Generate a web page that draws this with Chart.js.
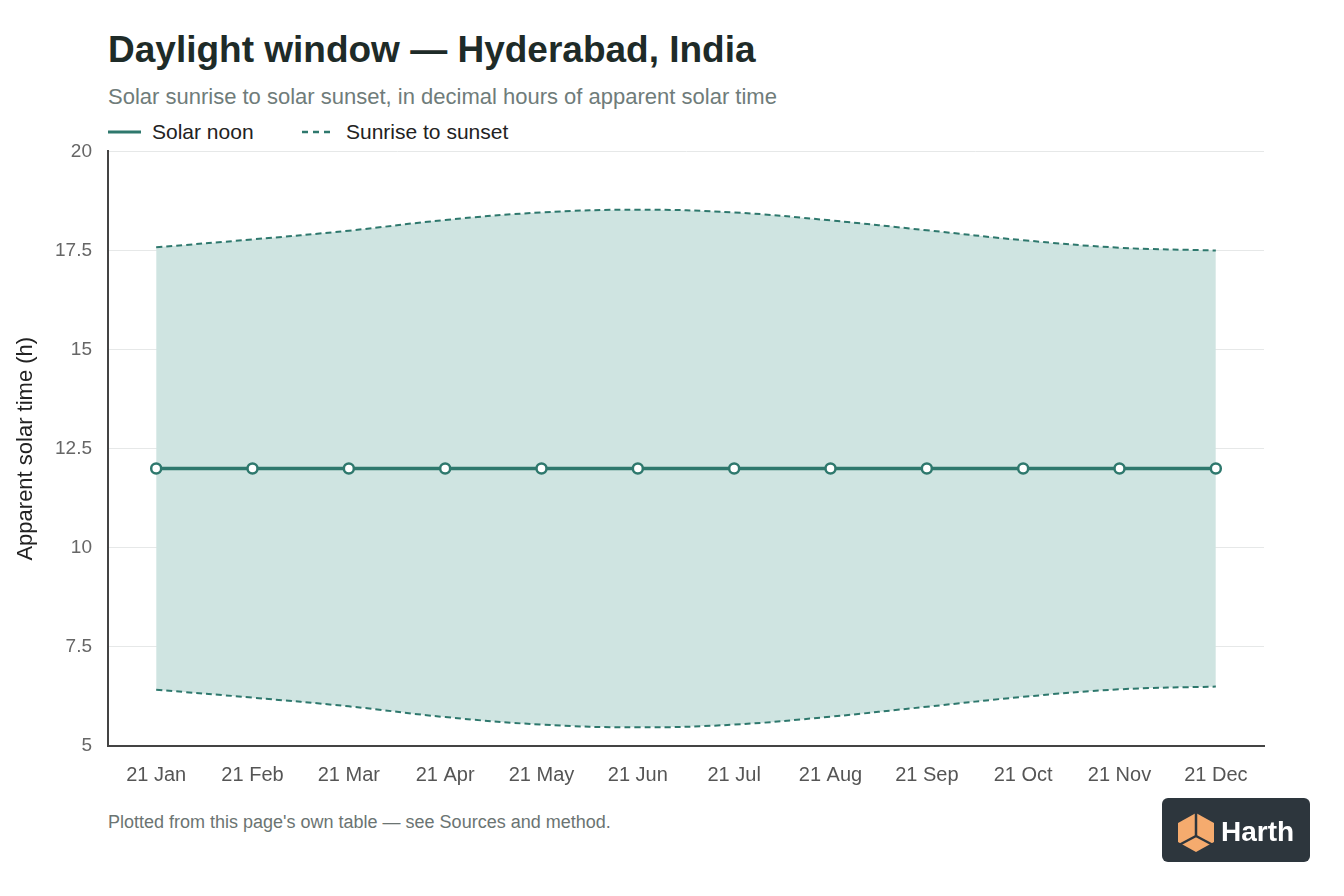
<!DOCTYPE html>
<html>
<head>
<meta charset="utf-8">
<title>Daylight window — Hyderabad, India</title>
<script src="https://cdn.jsdelivr.net/npm/chart.js@4.4.1/dist/chart.umd.min.js"></script>
<style>
    html, body { margin: 0; padding: 0; background: #fff; }
    body { width: 1344px; height: 896px; position: relative; overflow: hidden;
           font-family: "Liberation Sans", Arial, Helvetica, sans-serif; }
    #title { position: absolute; left: 108px; top: 29px; margin: 0; font-size: 37px; font-weight: bold; color: #1e2b28; }
    #subtitle { position: absolute; left: 108px; top: 84px; margin: 0; font-size: 22px; color: #6f7c7a; }
    #legend { position: absolute; left: 108px; top: 119px; height: 26px; font-size: 21px; color: #222; }
    .item { position: absolute; top: 0; white-space: nowrap; line-height: 26px; }
    .item svg { position: absolute; top: 11px; left: 0; }
    .item span { position: absolute; top: 0; }
    #chartBox { position: absolute; left: 0; top: 124px; width: 1280px; height: 676px; }
    #footer { position: absolute; left: 108px; top: 812px; margin: 0; font-size: 18px; color: #6b7472; }
    #logo { position: absolute; left: 1162px; top: 798px; }
</style>
</head>
<body>
<h1 id="title">Daylight window — Hyderabad, India</h1>
<p id="subtitle">Solar sunrise to solar sunset, in decimal hours of apparent solar time</p>
<div id="legend">
    <div class="item" style="left:0">
        <svg width="34" height="4"><line x1="0" y1="2" x2="33" y2="2" stroke="#2e786d" stroke-width="3"/></svg>
        <span style="left:44px">Solar noon</span>
    </div>
    <div class="item" style="left:194px">
        <svg width="34" height="4"><line x1="0" y1="2" x2="32" y2="2" stroke="#2e786d" stroke-width="2.5" stroke-dasharray="6,5"/></svg>
        <span style="left:44px">Sunrise to sunset</span>
    </div>
</div>
<div id="chartBox"><canvas id="daylightChart"></canvas></div>
<p id="footer">Plotted from this page's own table — see Sources and method.</p>
<svg id="logo" width="148" height="64" viewBox="0 0 148 64">
    <rect x="0" y="0" width="148" height="64" rx="6" fill="#2d363d"/>
    <polygon points="34,15 52,25 52,44 34,54 16,44 16,25" fill="#f5ab6e"/>
    <line x1="34" y1="15" x2="34" y2="38" stroke="#2d363d" stroke-width="2.5"/>
    <line x1="34" y1="38" x2="17" y2="47" stroke="#2d363d" stroke-width="2.5"/>
    <line x1="34" y1="38" x2="51" y2="47" stroke="#2d363d" stroke-width="2.5"/>
    <text x="59" y="43" font-family="Liberation Sans, Arial, sans-serif" font-size="28" font-weight="bold" fill="#ffffff">Harth</text>
</svg>

<script>
// values
var months = ['21 Jan', '21 Feb', '21 Mar', '21 Apr', '21 May', '21 Jun',
              '21 Jul', '21 Aug', '21 Sep', '21 Oct', '21 Nov', '21 Dec'];
var solarNoon = [12, 12, 12, 12, 12, 12, 12, 12, 12, 12, 12, 12];
var sunrise = [6.42, 6.22, 6.00, 5.73, 5.54, 5.47, 5.54, 5.74, 5.99, 6.24, 6.43, 6.50];
var sunset = [17.58, 17.78, 18.00, 18.27, 18.46, 18.53, 18.46, 18.26, 18.01, 17.76, 17.57, 17.50];
var yTicks = [5, 7.5, 10, 12.5, 15, 17.5, 20];

var teal = '#2e786d';

document.addEventListener('DOMContentLoaded', function() {
    var ctx = document.getElementById('daylightChart').getContext('2d');
    new Chart(ctx, {
        type: 'line',
        data: {
            labels: months,
            datasets: [{
                label: 'Solar noon',
                data: solarNoon,
                borderColor: teal,
                borderWidth: 3.5,
                pointRadius: 5,
                pointBorderWidth: 2.5,
                pointBackgroundColor: '#ffffff',
                pointBorderColor: teal,
                fill: false
            }, {
                label: 'Sunrise',
                data: sunrise,
                borderColor: teal,
                borderWidth: 2,
                borderDash: [6, 4],
                pointRadius: 0,
                tension: 0.4,
                fill: false
            }, {
                label: 'Sunset',
                data: sunset,
                borderColor: teal,
                borderWidth: 2,
                borderDash: [6, 4],
                pointRadius: 0,
                tension: 0.4,
                backgroundColor: '#cfe4e1',
                fill: '-1'
            }]
        },
        options: {
            responsive: true,
            maintainAspectRatio: false,
            animation: false,
            layout: { padding: { top: 10, right: 16 } },
            plugins: {
                legend: { display: false },
                tooltip: { enabled: false }
            },
            scales: {
                x: {
                    offset: true,
                    grid: { display: false, drawTicks: false },
                    border: { color: '#444', width: 2 },
                    ticks: { color: '#555', padding: 17, font: { size: 20, family: 'Liberation Sans' } },
                    afterFit: function(scale) { scale.height = 54; }
                },
                y: {
                    min: 5,
                    max: 20,
                    afterBuildTicks: function(scale) {
                        scale.ticks = yTicks.map(function(v) { return { value: v }; });
                    },
                    grid: { color: '#e6e8e8', drawTicks: false },
                    border: { color: '#444', width: 2 },
                    ticks: { color: '#666', padding: 16, font: { size: 19, family: 'Liberation Sans' } },
                    title: {
                        display: true,
                        text: 'Apparent solar time (h)',
                        color: '#222',
                        padding: { top: 13, bottom: 0 },
                        font: { size: 22, family: 'Liberation Sans' }
                    },
                    afterFit: function(scale) { scale.width = 108; }
                }
            }
        }
    });
});
</script>
</body>
</html>
